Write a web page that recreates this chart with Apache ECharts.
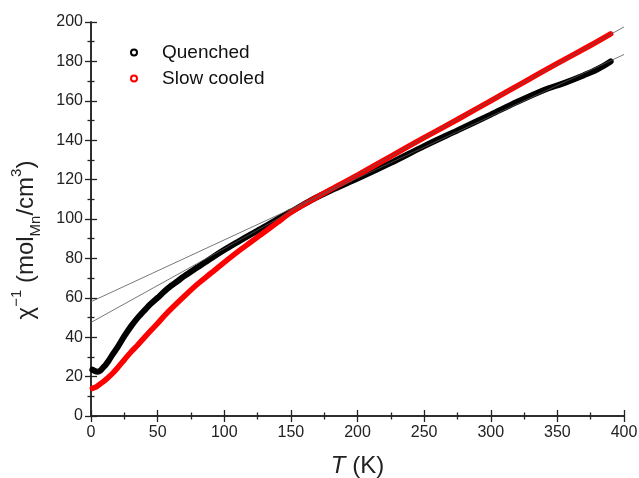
<!DOCTYPE html>
<html>
<head>
<meta charset="utf-8">
<script src="https://cdn.jsdelivr.net/npm/echarts@6/dist/echarts.min.js"></script>
<style>
  html, body { margin: 0; padding: 0; background: #fff; }
  #chart { width: 639px; height: 478px; }
</style>
</head>
<body>
<div id="chart"></div>
<script>
// temperature (K) and inverse susceptibility
const quenchedT = [1, 3, 5, 7, 9, 11, 13, 16, 20, 25, 30, 35, 40, 45, 50, 55, 60, 65, 70, 80, 90, 100, 110, 120, 130, 140, 150, 165, 180, 200, 225, 250, 275, 300, 320, 340, 355, 370, 380, 390];
const quenchedChi = [23.5, 22.8, 22.5, 23, 24.5, 26, 27.8, 31, 35, 40.5, 45.5, 49.8, 53.5, 57, 60, 63.2, 66, 68.5, 71, 75.5, 80, 84.3, 88.3, 92.2, 96, 100, 103.7, 109.5, 114.5, 120.5, 128.5, 137, 145, 153, 159.5, 165.5, 169, 173, 176, 180];

const slowT = [1, 4, 8, 12, 16, 20, 25, 30, 35, 40, 45, 50, 55, 60, 70, 80, 90, 100, 110, 120, 130, 140, 150, 165, 180, 200, 225, 250, 275, 300, 325, 350, 375, 390];
const slowChi = [14, 14.8, 16.8, 19, 21.5, 24.5, 28.5, 32.5, 36, 39.8, 43.5, 47, 50.8, 54.3, 60.8, 67, 72.5, 78, 83.3, 88.3, 93.3, 98.3, 103.3, 109.3, 115, 122.3, 131.8, 141.3, 150.5, 160, 169.5, 179, 188.2, 194];

// Curie-Weiss fit lines (end points)
const fitT = [0, 400];
const quenchedFit = [58, 183.5];
const slowFit = [47.5, 197.5];

const xTicks = { min: 0, max: 400, interval: 50 };
const yTicks = { min: 0, max: 200, interval: 20 };

const FONT = '"Liberation Sans", Arial, sans-serif';
const AXIS_COLOR = '#222';

const zip = (xs, ys) => xs.map((x, i) => [x, ys[i]]);

const chart = echarts.init(document.getElementById('chart'), null, { renderer: 'canvas' });

const tickCfg = {
  axisLine: { show: true, lineStyle: { color: AXIS_COLOR, width: 1.5 } },
  axisTick: { show: true, inside: true, length: 6, lineStyle: { color: AXIS_COLOR, width: 1.3 } },
  minorTick: { show: true, splitNumber: 2, length: 3.5, lineStyle: { color: AXIS_COLOR, width: 1.3 } },
  splitLine: { show: false },
};

chart.setOption({
  animation: false,
  backgroundColor: '#fff',
  grid: { left: 91, right: 15, top: 22, bottom: 62, outerBoundsMode: 'none' },
  legend: {
    orient: 'vertical',
    left: 125,
    top: 38,
    itemWidth: 46,
    itemHeight: 6,
    itemGap: 7,
    icon: 'emptyCircle',
    itemStyle: { borderWidth: 1 },
    textStyle: { fontFamily: FONT, fontSize: 19, color: '#111', lineHeight: 19 },
    data: ['Quenched', 'Slow cooled'],
  },
  xAxis: [
    {
      type: 'value',
      position: 'bottom',
      ...xTicks,
      ...tickCfg,
      axisLabel: { fontFamily: FONT, fontSize: 16, color: AXIS_COLOR, margin: 9 },
      name: '{i|T} (K)',
      nameLocation: 'middle',
      nameGap: 38,
      nameTextStyle: {
        fontFamily: FONT, fontSize: 24, color: AXIS_COLOR,
        rich: { i: { fontFamily: FONT, fontSize: 24, fontStyle: 'italic', color: AXIS_COLOR } },
      },
    },
    {
      type: 'value',
      position: 'top',
      ...xTicks,
      ...tickCfg,
      axisLabel: { show: false },
    },
  ],
  yAxis: [
    {
      type: 'value',
      position: 'left',
      ...yTicks,
      ...tickCfg,
      axisLabel: { fontFamily: FONT, fontSize: 16, color: AXIS_COLOR, margin: 8 },
      name: '{g|χ}{sp|−1} (mol{sb|Mn}/cm{sp|3})',
      nameLocation: 'middle',
      nameGap: 48,
      nameTextStyle: {
        fontFamily: FONT, fontSize: 24, color: AXIS_COLOR, lineHeight: 34,
        padding: [0, 42, 0, 0],
        rich: {
          g: { fontFamily: FONT, fontSize: 24, color: AXIS_COLOR, lineHeight: 34 },
          sp: { fontFamily: FONT, fontSize: 15, color: AXIS_COLOR, lineHeight: 15, verticalAlign: 'top' },
          sb: { fontFamily: FONT, fontSize: 15, color: AXIS_COLOR, lineHeight: 15, verticalAlign: 'bottom' },
        },
      },
    },
    {
      type: 'value',
      position: 'right',
      ...yTicks,
      ...tickCfg,
      axisLabel: { show: false },
    },
  ],
  series: [
    {
      name: 'Quenched',
      type: 'line',
      data: zip(quenchedT, quenchedChi),
      smooth: 0.3,
      showSymbol: false,
      itemStyle: { color: '#000' },
      lineStyle: { color: '#000', width: 6, cap: 'round' },
      z: 2,
    },
    {
      name: 'Slow cooled',
      type: 'line',
      data: zip(slowT, slowChi),
      smooth: 0.3,
      showSymbol: false,
      itemStyle: { color: '#f00' },
      lineStyle: { color: '#f00', width: 5.5, cap: 'round' },
      z: 3,
    },
    {
      name: 'fit-q',
      type: 'line',
      data: zip(fitT, quenchedFit),
      showSymbol: false,
      lineStyle: { color: '#555', width: 0.8 },
      z: 4,
    },
    {
      name: 'fit-s',
      type: 'line',
      data: zip(fitT, slowFit),
      showSymbol: false,
      lineStyle: { color: '#555', width: 0.8 },
      z: 4,
    },
  ],
});
</script>
</body>
</html>
